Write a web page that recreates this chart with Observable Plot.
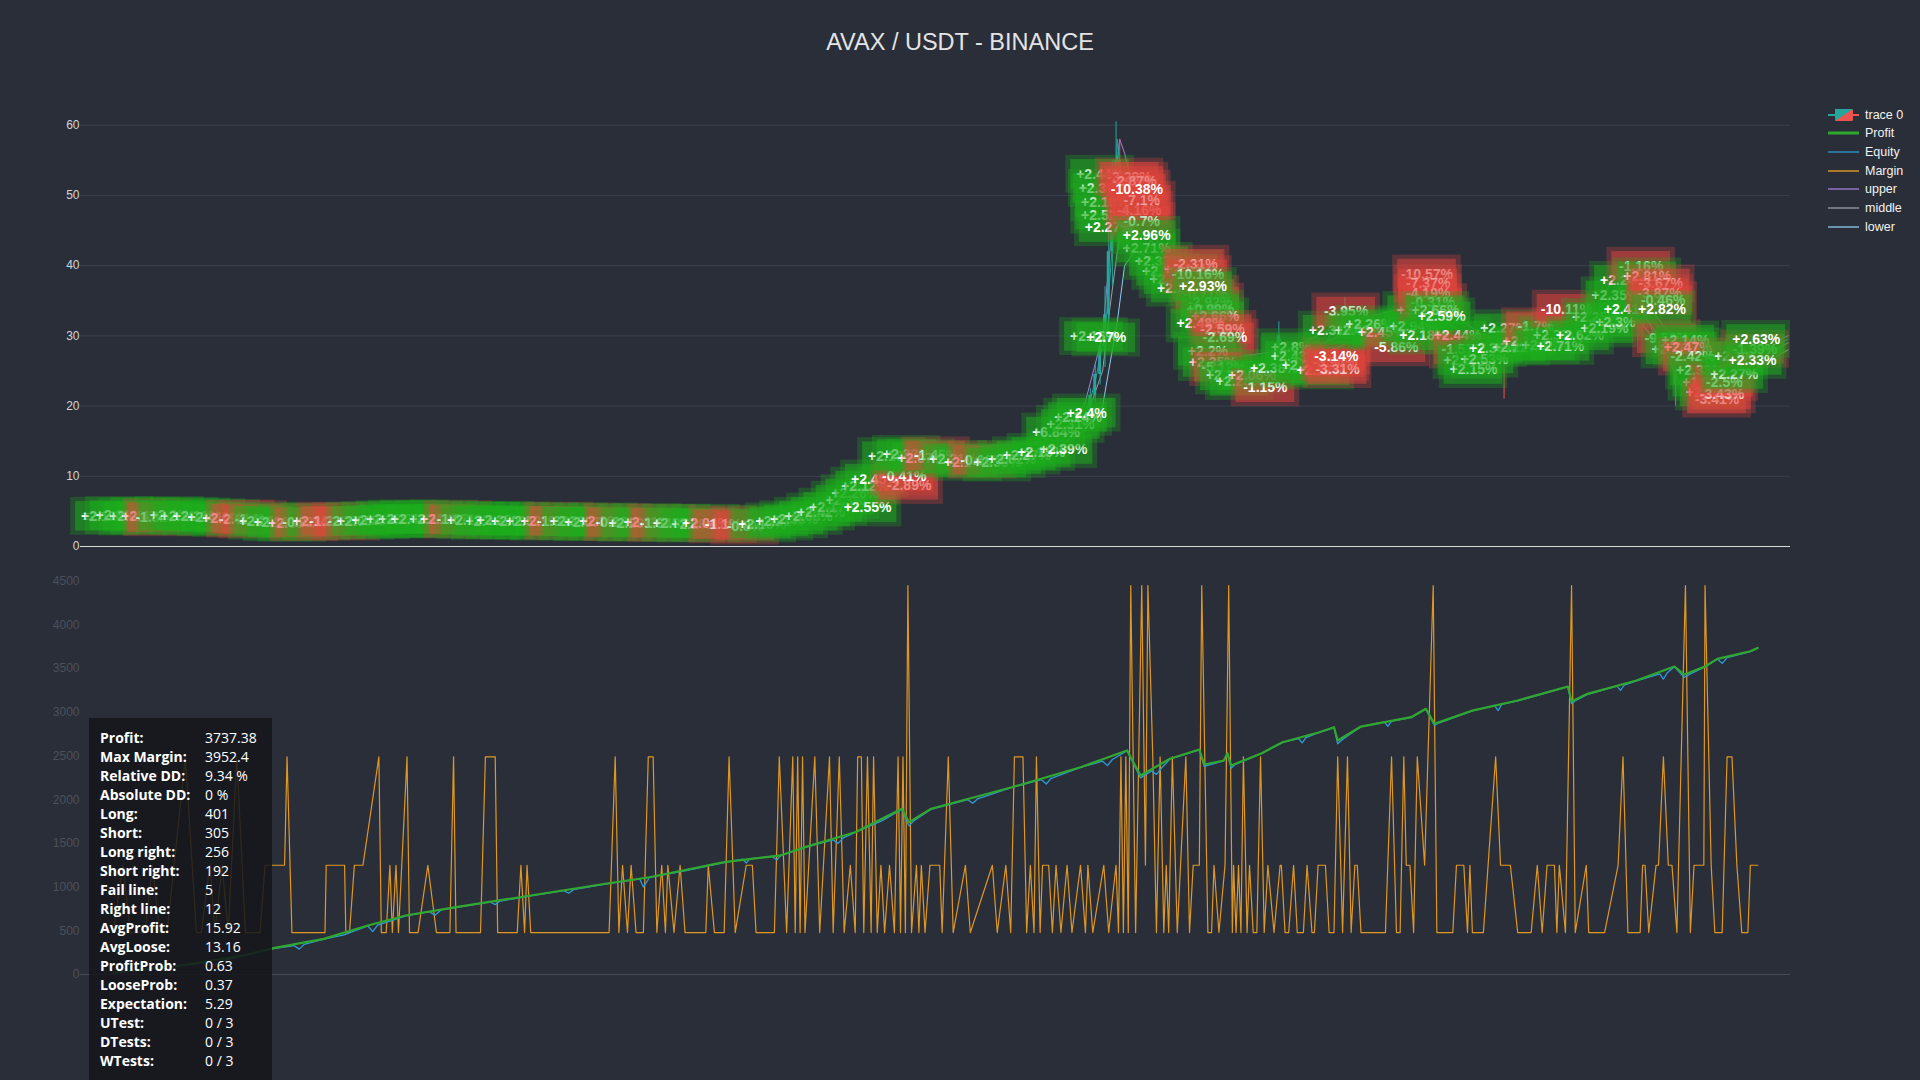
<!DOCTYPE html>
<html><head><meta charset="utf-8">
<script src="https://cdn.jsdelivr.net/npm/d3@7"></script>
<script src="https://cdn.jsdelivr.net/npm/@observablehq/plot@0.6"></script>
<style>
html,body{margin:0;padding:0;background:#2a2e39;}
#root{position:relative;width:1920px;height:1080px;overflow:hidden;background:#2a2e39;font-family:"Liberation Sans",Arial,sans-serif;}
#title{position:absolute;left:0;top:28px;width:1920px;line-height:28px;text-align:center;color:#e4e4e4;font-size:23.5px;}
#top{position:absolute;left:0;top:100px;}
#bottom{position:absolute;left:0;top:560px;}
.lg{position:absolute;left:1828px;height:18px;display:flex;align-items:center;color:#f2f2f2;font-size:12.5px;}
.lg svg{margin-right:5px;}
#stats{position:absolute;left:89px;top:718px;width:183px;height:362px;background:rgba(20,22,27,0.86);box-sizing:border-box;padding-top:10px;font-family:"Open Sans","Noto Sans",sans-serif;color:#fff;font-size:14px;}
.sr{position:relative;height:19px;line-height:19px;white-space:nowrap;}
.sl{position:absolute;left:11px;font-weight:bold;}
.sv{position:absolute;left:116px;}
</style></head>
<body><div id="root">
<div id="title">AVAX / USDT - BINANCE</div>
<div id="top"></div>
<div id="bottom"></div>
<div id="legend"></div>
<div id="stats"></div>
</div>
<script>
// ---------- DATA ----------
const topTicks = [0, 10, 20, 30, 40, 50, 60];
const bottomTicks = [0, 500, 1000, 1500, 2000, 2500, 3000, 3500, 4000, 4500];

// price close line [bar, price]
const price = [[67,4.3],[90,4.4],[120,4.2],[150,4.1],[180,4.2],[210,3.8],[240,3.4],[270,3.6],[300,3.5],[330,3.9],[360,3.8],[390,3.7],[420,3.6],[450,3.7],[480,3.5],[510,3.4],[540,3.3],[570,3.2],[600,2.8],[620,3.2],[640,3.6],[660,4.4],[680,5.6],[700,7.9],[715,9.5],[730,10.8],[745,12.6],[760,13.2],[780,12.4],[800,12.1],[820,12.3],[840,12.9],[860,14.2],[875,16.5],[885,18.8],[890,21],[894,23.5],[898,27],[902,30.5],[905,36],[908,43],[910,50],[912,58],[914,54],[917,50.5],[920,47],[926,44.5],[932,42.8],[940,43.5],[948,41],[956,38.5],[966,37.5],[976,35.2],[986,31],[996,27],[1004,24.2],[1012,25.6],[1022,24.4],[1032,23.5],[1044,29.8],[1052,27.5],[1064,26.3],[1076,26.6],[1086,30.2],[1098,33.5],[1108,31.5],[1122,30.6],[1136,29.4],[1150,33.2],[1162,36.5],[1172,33],[1182,30],[1196,27.5],[1212,27],[1230,28.8],[1246,29.5],[1262,29.2],[1280,31.5],[1296,33],[1310,36],[1322,39.2],[1334,37.5],[1344,33],[1352,29.5],[1362,27],[1372,23],[1384,22.5],[1396,22],[1408,23],[1420,25.8],[1436,27.5],[1452,29],[1460,29.5]];

// visible candles [bar, open, high, low, close]
const candles = [[890,19.5,22.5,18.5,21.5],[894,21.5,26,20.5,24.5],[898,24.5,31,23,28.5],[902,28.5,37,25.5,33],[905,33,46,30,42],[908,42,55,37,51],[911,51,60.5,46,55],[914,55,58,49,51],[917,51,54,46,48],[921,48,50,43,45],[1044,27,32,26,30],[1098,31,35.5,30,34],[1228,28,29,21,27],[1368,25,26,20,23]];

const bbUpper = [[67,4.7],[200,4.4],[400,4.2],[600,3.5],[650,4.8],[700,8.6],[760,13.8],[850,14.8],[885,20],[900,30],[906,42],[910,52],[914,58],[918,56],[924,52],[932,47],[950,42],[980,38],[1010,27],[1050,28],[1100,32],[1170,35],[1220,29],[1300,33],[1330,38],[1360,31],[1400,25],[1460,30]];
const bbMiddle = [[67,4.3],[200,4.0],[400,3.8],[600,3.2],[650,4.1],[700,7.5],[760,12.6],[850,13.8],[885,17.5],[900,25],[906,34],[912,42],[918,47],[926,46],[940,43.5],[960,39.5],[985,33],[1010,25.3],[1050,26.5],[1100,30.5],[1170,33],[1220,27.8],[1300,31.5],[1330,36],[1360,28.5],[1400,23.5],[1460,29]];
const bbLower = [[67,3.9],[200,3.6],[400,3.4],[600,2.8],[650,3.4],[700,6.5],[760,11.5],[850,12.8],[885,16.5],[900,20],[906,26],[912,32],[918,40],[926,42],[940,41],[960,37],[985,30],[1010,23.5],[1050,25],[1100,29],[1170,31],[1220,26.5],[1300,30],[1330,34],[1360,27.5],[1400,22],[1460,28]];

// trades [bar, price, result %]
const trades = [
[85,4.3,2.12],[97,4.4,2.31],[108,4.2,2.05],[118,4.3,2.47],[128,4.1,-1.82],[138,4.4,2.2],[150,4.3,2.36],[160,4.2,2.18],[172,4.1,2.41],[184,4.0,2.09],[196,3.9,-2.61],[206,3.8,-1.4],[214,3.6,2.26],[226,3.4,2.19],[238,3.3,2.33],[248,3.4,-0.92],[258,3.5,2.14],[270,3.6,-1.21],[282,3.5,-2.3],[294,3.6,2.08],[306,3.7,2.22],[318,3.8,2.35],[328,3.9,2.17],[338,3.9,2.44],[350,3.8,2.1],[362,3.9,2.28],[374,3.8,-1.67],[384,3.7,2.13],[396,3.6,2.4],[408,3.7,2.25],[420,3.6,2.03],[432,3.6,2.52],[444,3.5,2.19],[456,3.6,-1.33],[468,3.5,2.31],[480,3.4,2.07],[492,3.5,2.16],[504,3.4,-0.85],[516,3.3,2.29],[528,3.4,2.11],[540,3.3,-1.94],[552,3.3,2.37],[564,3.2,2.2],[576,3.3,2.04],[590,3.1,-1.1],[608,2.9,-0.8],[622,3.2,2.13],
[636,3.5,2.21],[648,3.8,2.35],[660,4.3,2.08],[670,4.9,2.42],[680,5.6,2.17],[690,6.6,2.3],[698,7.5,2.26],[708,5.5,2.55],[706,8.6,2.12],[714,9.6,2.45],[742,8.7,-2.89],[738,9.9,-0.41],
[728,12.8,2.18],[740,13.1,2.33],[752,12.6,2.07],[764,12.9,-1.45],[778,12.4,2.21],[790,12.0,2.14],[802,12.3,-0.66],[814,11.9,2.39],[826,12.4,2.02],[838,12.9,2.27],[850,13.4,2.15],[868,13.8,2.39],
[862,16.3,6.84],[874,17.4,2.31],[880,18.4,2.24],[887,19.0,2.4],[893,29.9,2.16],[903,29.7,2.7],
[898,53.0,2.44],[900,51.0,2.36],[902,49.0,2.18],[902,47.2,2.52],[905,45.4,2.27],[922,52.6,-3.28],[926,52.0,-2.87],[930,47.9,-4.16],[932,49.3,-7.1],[928,50.9,-10.38],[932,46.3,-0.7],[936,42.5,2.71],[936,44.3,2.96],[946,40.6,2.33],[952,39.2,2.19],
[958,38.0,2.41],[964,36.8,2.25],[970,39.5,2.14],[976,40.2,-2.31],[978,38.7,-10.16],[984,35.9,-0.71],[988,34.8,-2.92],[988,33.8,0.99],[992,32.7,2.66],[982,37.0,2.93],[980,31.7,2.48],[998,30.9,-2.59],[1000,29.7,-2.69],
[986,27.8,2.2],[990,26.2,2.35],[999,25.5,-5.12],[1004,24.3,2.17],[1012,23.5,2.28],[1022,24.4,2.06],[1033,22.6,-1.15],[1040,25.3,2.38],[1054,28.3,2.8],[1057,27.1,2.43],[1066,25.8,2.21],[1078,25.0,2.12],[1090,26.2,-3.94],[1092,25.2,-3.31],[1091,27.1,-3.14],
[1088,30.8,2.31],[1099,33.4,-3.95],[1109,30.8,2.41],[1118,31.6,2.26],[1128,30.5,2.45],[1140,28.3,-5.86],[1157,33.6,3.1],[1154,31.3,2.94],[1162,30.0,2.18],
[1165,38.8,-10.57],[1166,37.4,-7.37],[1166,36.0,-4.19],[1170,34.7,-0.31],[1172,33.6,2.66],[1177,32.7,2.59],
[1190,30.0,2.44],[1195,28.0,-1.57],[1198,26.5,2.29],[1203,25.2,2.15],[1212,26.7,2.53],[1219,28.2,2.36],[1228,31.0,2.27],[1238,28.4,2.22],[1246,29.2,2.11],[1254,31.3,-1.7],[1262,28.6,2.18],[1268,30.0,2.3],[1274,28.5,2.71],[1279,33.8,-10.11],[1290,30.0,2.62],[1303,32.6,2.25],[1310,31.0,2.19],
[1319,35.7,2.35],[1319,31.9,2.3],[1326,37.9,2.24],[1329,33.7,2.41],[1340,39.9,-1.16],[1345,38.4,2.81],[1356,37.4,-3.67],[1355,36.0,-3.87],[1358,35.0,-0.46],[1357,33.7,2.82],
[1361,29.6,-9.58],[1368,28.0,2.16],[1376,29.4,2.14],[1378,28.4,2.47],[1382,27.0,-2.42],[1388,25.0,2.33],[1390,23.4,1.2],[1396,22.0,2.26],[1402,21.0,-3.41],[1406,21.6,-3.43],[1408,23.4,-2.5],[1416,24.5,2.27],[1416,27.0,2.1],[1433,28.1,-1.39],[1431,26.5,2.33],[1434,29.5,2.63]
];

// bottom panel [trade step, value]
const margin = [[92,480],[100,1250],[106,480],[118,480],[124,1250],[130,480],[136,480],[151,2490],[160,480],[164,480],[171,1250],[175,480],[181,1250],[186,480],[193,2490],[200,480],[212,480],[216,1250],[232,1250],[234,2490],[238,480],[265,480],[266,1250],[281,1250],[282,480],[285,480],[289,1250],[296,1250],[309,2490],[311,480],[315,480],[318,1250],[320,480],[323,1250],[325,480],[332,2490],[334,480],[341,480],[349,1250],[356,480],[367,480],[370,2490],[372,480],[392,480],[396,2490],[404,2490],[406,480],[422,480],[425,1250],[428,480],[430,1250],[433,480],[497,480],[502,2490],[505,480],[508,1250],[512,480],[515,1250],[519,480],[525,480],[529,2490],[533,2490],[536,480],[540,1250],[543,480],[545,1250],[550,480],[555,1250],[559,480],[576,480],[578,1250],[583,480],[591,480],[595,2490],[600,480],[609,1250],[614,1250],[617,480],[632,480],[636,2490],[642,480],[647,2490],[649,480],[651,2490],[653,480],[655,2490],[657,480],[665,2490],[669,480],[677,2490],[680,480],[685,2490],[689,480],[694,1250],[698,480],[700,2490],[703,2490],[705,480],[708,2490],[711,480],[713,2490],[716,480],[719,1250],[722,480],[726,1250],[730,480],[733,2490],[735,480],[737,2490],[739,480],[741,4450],[744,480],[748,1250],[750,480],[752,1250],[755,480],[759,1250],[767,1250],[769,480],[774,2490],[778,480],[788,1250],[792,480],[810,1250],[814,480],[821,1250],[825,480],[828,2490],[835,2490],[838,480],[841,1250],[844,480],[846,2490],[849,480],[851,1250],[856,1250],[859,480],[862,1250],[866,480],[871,1250],[875,480],[882,1250],[886,480],[888,1250],[892,480],[901,1250],[905,480],[911,1250],[913,480],[915,2490],[917,480],[919,2490],[921,480],[923,4450],[927,480],[932,4450],[935,1250],[937,4450],[941,2490],[944,480],[947,2490],[950,480],[952,1250],[954,480],[957,2490],[961,480],[968,2490],[971,480],[974,1250],[979,1250],[981,4450],[986,480],[989,480],[991,1250],[995,480],[1000,1250],[1003,4450],[1006,480],[1007,1250],[1009,480],[1011,1250],[1013,480],[1015,2490],[1018,480],[1020,1250],[1023,480],[1026,480],[1029,2490],[1032,480],[1035,1250],[1040,480],[1045,1250],[1046,1250],[1049,480],[1052,480],[1056,1250],[1059,480],[1064,480],[1067,1250],[1071,480],[1073,480],[1076,1250],[1082,1250],[1085,480],[1089,480],[1092,2490],[1096,480],[1100,2490],[1103,480],[1106,1250],[1108,1250],[1111,480],[1131,480],[1136,2490],[1140,480],[1143,480],[1146,2490],[1148,1250],[1151,1250],[1154,480],[1157,2490],[1163,1250],[1170,4450],[1173,480],[1186,480],[1189,1250],[1195,1250],[1198,480],[1200,1250],[1202,480],[1211,480],[1221,2490],[1225,1250],[1233,1250],[1239,480],[1250,480],[1255,1250],[1259,480],[1263,1250],[1269,1250],[1271,480],[1273,1250],[1278,480],[1283,4450],[1286,480],[1295,1250],[1297,480],[1310,480],[1321,1250],[1325,2490],[1329,480],[1339,480],[1341,1250],[1343,1250],[1346,480],[1352,1250],[1354,1250],[1358,2490],[1362,1250],[1365,1250],[1369,480],[1376,4450],[1380,480],[1383,1250],[1391,1250],[1392,4450],[1397,1250],[1400,480],[1406,480],[1410,2490],[1414,2490],[1418,1250],[1422,480],[1427,480],[1429,1250],[1435,1250]];

const profit = [[92,20],[147,103],[198,217],[224,305],[264,408],[300,560],[331,675],[372,770],[433,904],[494,1038],[530,1113],[591,1285],[637,1362],[657,1457],[698,1628],[736,1896],[742,1743],[760,1896],[826,2143],[882,2372],[920,2563],[931,2277],[955,2468],[979,2574],[983,2403],[999,2449],[1002,2532],[1005,2391],[1030,2532],[1047,2658],[1077,2772],[1089,2829],[1092,2677],[1111,2837],[1152,2944],[1164,3040],[1171,2868],[1202,3020],[1239,3135],[1280,3295],[1283,3124],[1296,3211],[1336,3364],[1367,3524],[1375,3432],[1392,3524],[1402,3612],[1429,3699],[1435,3737]];

const equity = [[92,20],[147,100],[170,140],[175,110],[180,150],[198,215],[224,300],[240,330],[244,290],[248,345],[264,405],[280,450],[300,555],[304,490],[308,565],[331,670],[350,720],[355,680],[360,740],[372,765],[400,830],[404,800],[408,840],[433,900],[460,960],[464,930],[468,970],[494,1035],[522,1095],[525,1000],[530,1110],[560,1190],[591,1280],[606,1320],[609,1275],[612,1325],[630,1350],[634,1310],[637,1360],[657,1455],[680,1540],[684,1500],[688,1560],[698,1625],[720,1760],[736,1890],[742,1700],[746,1760],[760,1890],[790,2000],[794,1960],[798,2010],[826,2140],[850,2230],[854,2180],[858,2245],[882,2370],[900,2440],[904,2390],[908,2460],[920,2560],[931,2250],[940,2330],[944,2290],[948,2360],[955,2465],[979,2570],[983,2380],[999,2445],[1002,2530],[1005,2360],[1008,2400],[1030,2530],[1047,2655],[1060,2700],[1063,2650],[1066,2710],[1077,2770],[1089,2825],[1092,2640],[1096,2690],[1111,2835],[1130,2890],[1133,2840],[1136,2900],[1152,2940],[1164,3035],[1171,2850],[1175,2880],[1202,3015],[1220,3080],[1223,3020],[1226,3090],[1239,3130],[1280,3290],[1283,3100],[1287,3140],[1296,3205],[1320,3300],[1323,3250],[1326,3310],[1336,3360],[1355,3440],[1358,3380],[1361,3450],[1367,3520],[1375,3400],[1380,3440],[1392,3520],[1402,3610],[1406,3560],[1410,3625],[1429,3695],[1435,3737]];

const statLabels = ["Profit:","Max Margin:","Relative DD:","Absolute DD:","Long:","Short:","Long right:","Short right:","Fail line:","Right line:","AvgProfit:","AvgLoose:","ProfitProb:","LooseProb:","Expectation:","UTest:","DTests:","WTests:"];
const statValues = ["3737.38","3952.4","9.34 %","0 %","401","305","256","192","5","12","15.92","13.16","0.63","0.37","5.29","0 / 3","0 / 3","0 / 3"];

const legendNames = ["trace 0","Profit","Equity","Margin","upper","middle","lower"];

// ---------- STYLE ----------
const GREEN = "#1cae1c", RED = "#e2443c";
const UP = "#26a69a", DOWN = "#ef5350";
const C_UPPER = "#a47fdc", C_MIDDLE = "#9aa0aa", C_LOWER = "#8fcdf0";
const C_PROFIT = "#30a830", C_EQUITY = "#2e9bd6", C_MARGIN = "#f3a322";
const BOX_W = 24, BOX_H = 2.1, HALO_W = 4, HALO_H = 0.6;
const FONT = "Liberation Sans, Arial, sans-serif";

const fmtPct = v => (v > 0 ? "+" : "") + v + "%";
const X = d => d[0], Y = d => d[1];

// ---------- TOP PANEL ----------
const topMarks = [
  Plot.ruleY(topTicks.filter(t => t > 0), {y: d => d, stroke: "#3b404d", strokeWidth: 1}),
  Plot.ruleY([0], {stroke: "#d9d9d9", strokeWidth: 1}),
  Plot.text(topTicks, {y: d => d, text: d => String(d), frameAnchor: "left", textAnchor: "end", dx: -1, fill: "#cfd3da", fontSize: 12}),
  Plot.line(bbUpper, {x: X, y: Y, stroke: C_UPPER, strokeWidth: 1}),
  Plot.line(bbMiddle, {x: X, y: Y, stroke: C_MIDDLE, strokeWidth: 1}),
  Plot.line(bbLower, {x: X, y: Y, stroke: C_LOWER, strokeWidth: 1}),
  Plot.line(price, {x: X, y: Y, stroke: UP, strokeWidth: 1}),
  Plot.ruleX(candles, {x: d => d[0], y1: d => d[3], y2: d => d[2], stroke: d => d[4] >= d[1] ? UP : DOWN, strokeWidth: 1}),
  Plot.rect(candles, {x1: d => d[0] - 1.2, x2: d => d[0] + 1.2, y1: d => d[1], y2: d => d[4], fill: d => d[4] >= d[1] ? UP : DOWN})
];
trades.forEach(tr => {
  topMarks.push(Plot.rect([tr], {
    x1: d => d[0] - BOX_W - HALO_W, x2: d => d[0] + BOX_W + HALO_W,
    y1: d => d[1] - BOX_H - HALO_H, y2: d => d[1] + BOX_H + HALO_H,
    fill: d => d[2] >= 0 ? GREEN : RED, fillOpacity: 0.28
  }));
  topMarks.push(Plot.rect([tr], {
    x1: d => d[0] - BOX_W, x2: d => d[0] + BOX_W,
    y1: d => d[1] - BOX_H, y2: d => d[1] + BOX_H,
    fill: d => d[2] >= 0 ? GREEN : RED, fillOpacity: 0.5
  }));
  topMarks.push(Plot.text([tr], {
    x: d => d[0], y: d => d[1], text: d => fmtPct(d[2]),
    fill: "#ffffff", fontSize: 14, fontWeight: "bold"
  }));
});

const topPlot = Plot.plot({
  width: 1920, height: 460,
  marginLeft: 80, marginRight: 130, marginTop: 0, marginBottom: 0,
  x: {domain: [65, 1462], axis: null},
  y: {domain: [0, 60], range: [446, 24.7], axis: null},
  style: {background: "transparent", fontFamily: FONT, overflow: "visible"},
  marks: topMarks
});
document.getElementById("top").appendChild(topPlot);

// ---------- BOTTOM PANEL ----------
const bottomPlot = Plot.plot({
  width: 1920, height: 520,
  marginLeft: 80, marginRight: 130, marginTop: 0, marginBottom: 0,
  x: {domain: [90, 1435], range: [110.2, 1757.2], axis: null},
  y: {domain: [0, 4500], range: [414, 20.7], axis: null},
  style: {background: "transparent", fontFamily: FONT, overflow: "visible"},
  marks: [
    Plot.ruleY([0], {stroke: "#464b57", strokeWidth: 1}),
    Plot.text(bottomTicks, {y: d => d, text: d => String(d), frameAnchor: "left", textAnchor: "end", dx: -1, fill: "#4b505c", fontSize: 12}),
    Plot.line(margin, {x: X, y: Y, stroke: C_MARGIN, strokeWidth: 1.2, strokeOpacity: 0.9}),
    Plot.line(equity, {x: X, y: Y, stroke: C_EQUITY, strokeWidth: 1.3}),
    Plot.line(profit, {x: X, y: Y, stroke: C_PROFIT, strokeWidth: 2.2})
  ]
});
document.getElementById("bottom").appendChild(bottomPlot);

// ---------- LEGEND ----------
const legendIcons = [
  `<svg width="32" height="16"><line x1="0" y1="8" x2="7" y2="8" stroke="${UP}" stroke-width="2"/><line x1="25" y1="8" x2="31" y2="8" stroke="${DOWN}" stroke-width="2"/><rect x="7" y="2" width="18" height="12" rx="1.5" fill="${DOWN}"/><path d="M7,2 H25 L7,14 Z" fill="${UP}"/></svg>`,
  `<svg width="32" height="16"><line x1="0" y1="8" x2="31" y2="8" stroke="${C_PROFIT}" stroke-width="3"/></svg>`,
  `<svg width="32" height="16"><line x1="0" y1="8" x2="31" y2="8" stroke="${C_EQUITY}" stroke-width="1.3"/></svg>`,
  `<svg width="32" height="16"><line x1="0" y1="8" x2="31" y2="8" stroke="${C_MARGIN}" stroke-width="1.3"/></svg>`,
  `<svg width="32" height="16"><line x1="0" y1="8" x2="31" y2="8" stroke="${C_UPPER}" stroke-width="1.3"/></svg>`,
  `<svg width="32" height="16"><line x1="0" y1="8" x2="31" y2="8" stroke="${C_MIDDLE}" stroke-width="1.3"/></svg>`,
  `<svg width="32" height="16"><line x1="0" y1="8" x2="31" y2="8" stroke="${C_LOWER}" stroke-width="1.3"/></svg>`
];
const legend = document.getElementById("legend");
legendNames.forEach((n, i) => {
  const row = document.createElement("div");
  row.className = "lg";
  row.style.top = (105.7 + i * 18.67) + "px";
  row.innerHTML = legendIcons[i] + `<span>${n}</span>`;
  legend.appendChild(row);
});

// ---------- STATS ----------
const stats = document.getElementById("stats");
statLabels.forEach((l, i) => {
  const r = document.createElement("div");
  r.className = "sr";
  r.innerHTML = `<span class="sl">${l}</span><span class="sv">${statValues[i]}</span>`;
  stats.appendChild(r);
});
</script>
</body></html>
